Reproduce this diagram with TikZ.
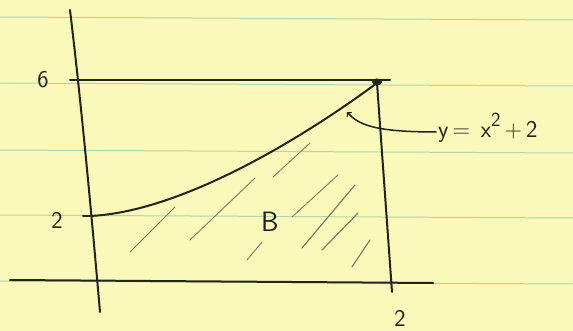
\documentclass[tikz,border=0pt]{standalone}
\usepackage{amsmath,amssymb}
\usepackage{xcolor}
\definecolor{paper}{RGB}{250,249,186}
\definecolor{rule}{RGB}{175,215,170}
\definecolor{ink}{RGB}{35,35,30}
\definecolor{pencil}{RGB}{125,125,100}

\begin{document}
\begin{tikzpicture}[x=1pt, y=-1pt, line cap=round,
    inkline/.style={draw=ink, line width=2pt},
    hatch/.style={draw=pencil, line width=0.9pt},
    hand/.style={text=ink, font=\sffamily\fontsize{24}{26}\selectfont}]
    % Paper
    \fill[paper] (0,0) rectangle (573,331);
    \useasboundingbox (0,0) rectangle (573,331);
    \foreach \y in {17,83,150,215,281}
        \draw[rule, line width=1pt] (0,\y) -- (573,\y+3);

    % Axes
    \draw[inkline] (70,10) .. controls (82,110) and (92,220) .. (100,312);
    \draw[inkline] (10,280) -- (433,283);

    % Box around B
    \draw[inkline] (70,80) -- (390,80);
    \draw[inkline] (377,83) -- (392,292);
    \draw[inkline] (83,216) -- (92,216);

    % Curve y = x^2 + 2
    \draw[inkline] (90,216) .. controls (180,212) and (300,140) .. (377,83);
    \fill[ink] (377,82) ellipse (5pt and 3.5pt);

    % Hatching
    \draw[hatch] (130,252) -- (175,207);
    \draw[hatch] (190,240) -- (255,178);
    \draw[hatch] (247,260) -- (262,242);
    \draw[hatch] (273,177) -- (310,143);
    \draw[hatch] (292,217) -- (338,175);
    \draw[hatch, line width=1.2pt] (302,248) -- (355,185);
    \draw[hatch, line width=1.2pt] (322,250) -- (358,213);
    \draw[hatch, line width=1.2pt] (352,267) -- (370,240);

    % Labels
    \node[hand] (six) at (43,80) {6};
    \node[hand] (ytwo) at (57,220) {2};
    \node[hand] (xtwo) at (400,318) {2};
    \node[hand, font=\sffamily\fontsize{28}{30}\selectfont] (B) at (270,222) {B};
    \node[hand, anchor=west, inner sep=2pt] (eq) at (436,128)
        {y\,=\;\,x\raisebox{11pt}{\fontsize{20}{22}\selectfont 2}\,+\,2};
    \coordinate (tip) at (347,112);
    \draw[inkline, line width=1.5pt, ->] (eq.west |- 0,132) .. controls (372,132) and (358,124) .. (tip);
\end{tikzpicture}
\end{document}
